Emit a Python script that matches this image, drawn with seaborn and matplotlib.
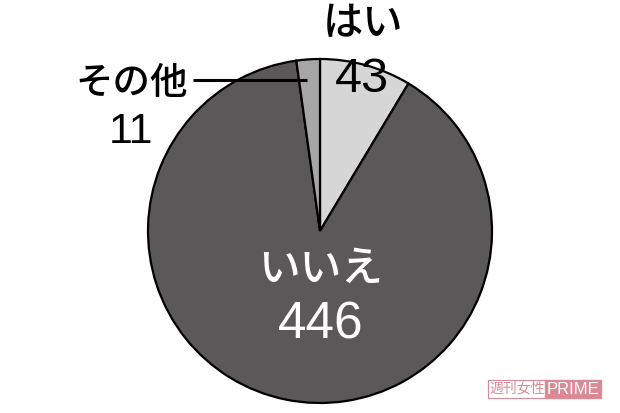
import matplotlib

matplotlib.use("Agg")
import matplotlib.pyplot as plt
import seaborn as sns

labels = ["はい", "いいえ", "その他"]
counts = [43, 446, 11]
slice_colors = ["#d6d6d6", "#5a5858", "#a6a6a6"]

W, H = 620, 413

sns.set_theme(style="white")
plt.rcParams["font.family"] = ["Noto Sans CJK JP", "DejaVu Sans"]

fig = plt.figure(figsize=(W / 100, H / 100), dpi=100)
ax = fig.add_axes([0, 0, 1, 1])

ax.pie(
    counts,
    colors=sns.color_palette(slice_colors),
    startangle=90,
    counterclock=False,
    center=(320, H - 231),
    radius=172,
    wedgeprops=dict(edgecolor="black", linewidth=1.6),
)
ax.set_xlim(0, W)
ax.set_ylim(0, H)
ax.set_aspect("equal")
ax.axis("off")

digits = ["Liberation Sans", "DejaVu Sans"]


def put(x, y, s, size, color="black", **kw):
    ax.text(x, H - y, s, fontsize=size, color=color, ha="center", va="center",
            fontweight="medium", **kw)


# labels
put(363, 24, labels[0], 29)
put(362, 80, str(counts[0]), 35, family=digits)
put(321, 268, labels[1], 30, color="white")
put(321, 325, str(counts[1]), 37, color="white", family=digits)
put(132, 83, labels[2], 27)
put(131, 132, str(counts[2]), 31, family=digits)
ax.plot([193, 307], [H - 80, H - 80], color="black", lw=2.2, solid_capstyle="butt")

# watermark
pink = "#d98a94"
ax.text(517, H - 389, "週刊女性", fontsize=10, color=pink, ha="center", va="center",
        bbox=dict(boxstyle="square,pad=0.12", facecolor="white", edgecolor=pink, lw=0.8))
ax.text(573, H - 389, "PRIME", fontsize=12, color="white", ha="center", va="center",
        family=digits,
        bbox=dict(boxstyle="square,pad=0.08", facecolor=pink, edgecolor=pink))

fig.savefig("out.png", dpi=100)
